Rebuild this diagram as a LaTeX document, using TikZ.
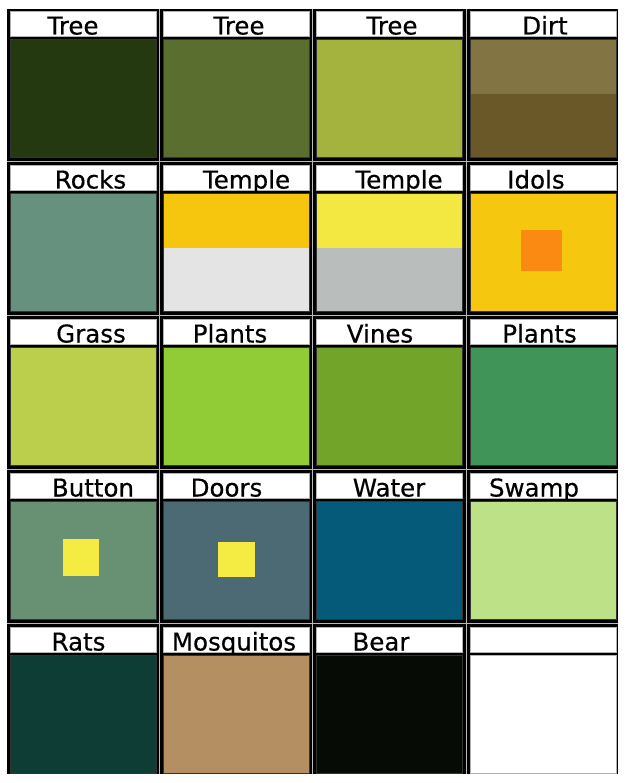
\documentclass[tikz,border=0pt]{standalone}
\usepackage{fontspec}
\setmainfont{DejaVu Sans}[FakeBold=0.5]

\definecolor{treeA}{HTML}{253911}
\definecolor{treeB}{HTML}{5A6E30}
\definecolor{treeC}{HTML}{A3B33D}
\definecolor{dirtTop}{HTML}{827443}
\definecolor{dirtBot}{HTML}{6B5829}
\definecolor{rocks}{HTML}{66917E}
\definecolor{templeA}{HTML}{F6C60F}
\definecolor{templeB}{HTML}{E4E4E4}
\definecolor{templeC}{HTML}{F3E842}
\definecolor{templeD}{HTML}{B9BDBB}
\definecolor{idols}{HTML}{F6C70F}
\definecolor{idolSq}{HTML}{FB8A12}
\definecolor{grass}{HTML}{BCCF4D}
\definecolor{plantsA}{HTML}{91CB36}
\definecolor{vines}{HTML}{72A42A}
\definecolor{plantsB}{HTML}{409457}
\definecolor{button}{HTML}{679172}
\definecolor{keySq}{HTML}{F4EB43}
\definecolor{doors}{HTML}{4B6A73}
\definecolor{water}{HTML}{045A78}
\definecolor{swamp}{HTML}{BDE187}
\definecolor{rats}{HTML}{0D3D35}
\definecolor{mosq}{HTML}{B48F62}
\definecolor{bear}{HTML}{070B06}

\begin{document}
\begin{tikzpicture}[x=1pt, y=-1pt,
  labelbox/.style={draw=gray!60, line width=0.8pt, fill=white, minimum width=146pt,
    minimum height=25pt, inner sep=0pt, outer sep=0pt, anchor=north west},
  swatch/.style={draw=black!80, line width=0.8pt, minimum width=146pt,
    minimum height=118pt, inner sep=0pt, outer sep=0pt, anchor=north west},
  split/.style 2 args={fill=#2, path picture={\fill[#1] (path picture bounding box.north west)
    rectangle ([yshift=-55pt]path picture bounding box.north east);}},
  labeltext/.style={font=\fontsize{24.5}{25}\selectfont, inner sep=0pt, anchor=base},
  sq/.style={inner sep=0pt, outer sep=0pt, draw=none},
  sep/.style={draw=gray!55, line width=1.2pt}]

  \useasboundingbox (0,0) rectangle (627,783);
  \fill[black] (7,9) rectangle (618,774);

  % separators between the cells
  \foreach \r in {0,...,3} {
    \pgfmathsetmacro{\sy}{11+154*\r+150.5}
    \draw[sep] (7,\sy) -- (618,\sy);
  }
  \foreach \sx in {159.5,312.8,466.2}
    \draw[sep] (\sx,9) -- (\sx,774);

  % cells: column/row/label/text centre/colour
  \foreach \c/\r/\txt/\tx/\col in {
      0/0/Tree/73/treeA, 1/0/Tree/239/treeB, 2/0/Tree/392/treeC, 3/0/Dirt/545/dirtBot,
      0/1/Rocks/90.5/rocks, 1/1/Temple/246.5/templeB, 2/1/Temple/399/templeD, 3/1/Idols/536/idols,
      0/2/Grass/91/grass, 1/2/Plants/230/plantsA, 2/2/Vines/380/vines, 3/2/Plants/539.5/plantsB,
      0/3/Button/93/button, 1/3/Doors/226.5/doors, 2/3/Water/389/water, 3/3/Swamp/534/swamp,
      0/4/Rats/78.5/rats, 1/4/Mosquitos/234/mosq, 2/4/Bear/381/bear} {
    \pgfmathsetmacro{\L}{10+153.3*\c}
    \pgfmathsetmacro{\T}{11+154*\r}
    \node[labelbox] (l\r\c) at (\L,\T) {};
    \node[labeltext] (t\r\c) at (\tx,\T+23.5) {\txt};
    \ifnum\r\c=03
      \node[swatch, split={dirtTop}{dirtBot}] (s\r\c) at (\L,\T+28) {};
    \else\ifnum\r\c=11
      \node[swatch, split={templeA}{templeB}] (s\r\c) at (\L,\T+28) {};
    \else\ifnum\r\c=12
      \node[swatch, split={templeC}{templeD}] (s\r\c) at (\L,\T+28) {};
    \else
      \node[swatch, fill=\col] (s\r\c) at (\L,\T+28) {};
    \fi\fi\fi
  }

  % empty cell
  \node[labelbox] (l43) at (469.9,627) {};
  \node[swatch, draw=gray!60, fill=white] (s43) at (469.9,655) {};

  % small squares
  \node[sq, fill=idolSq, minimum width=41pt, minimum height=40pt] (q13)
    at ([xshift=-1pt,yshift=1.5pt]s13.center) {};
  \node[sq, fill=keySq, minimum width=36pt, minimum height=37pt] (q30)
    at ([xshift=-2pt,yshift=2.5pt]s30.center) {};
  \node[sq, fill=keySq, minimum width=37pt, minimum height=35pt] (q31)
    at ([xshift=0.5pt,yshift=0.5pt]s31.center) {};
\end{tikzpicture}
\end{document}
